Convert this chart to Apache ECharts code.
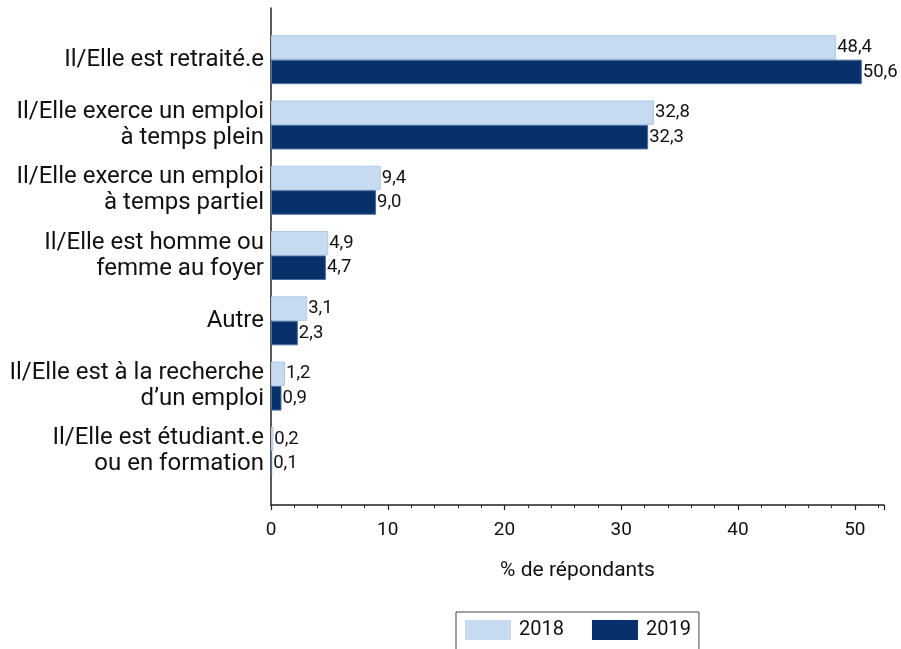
<!DOCTYPE html>
<html>
<head>
<meta charset="utf-8">
<script src="https://cdn.jsdelivr.net/npm/echarts@6/dist/echarts.min.js"></script>
<style>
  html, body { margin: 0; padding: 0; background: #fff; }
  #chart { width: 901px; height: 649px; }
</style>
</head>
<body>
<div id="chart"></div>
<script>
// categories, top to bottom
const categories = [
  'Il/Elle est retraité.e',
  'Il/Elle exerce un emploi\nà temps plein',
  'Il/Elle exerce un emploi\nà temps partiel',
  'Il/Elle est homme ou\nfemme au foyer',
  'Autre',
  'Il/Elle est à la recherche\nd\u2019un emploi',
  'Il/Elle est étudiant.e\nou en formation'
]
const values2018 = [48.4, 32.8, 9.4, 4.9, 3.1, 1.2, 0.2]
const values2019 = [50.6, 32.3, 9.0, 4.7, 2.3, 0.9, 0.1]
const seriesNames = ['2018', '2019']

const FONT = 'Roboto'
const TEXT = '#111'
const X_MAX = 52.5

const fmt = v => v.toFixed(1).replace('.', ',')

const chart = echarts.init(document.getElementById('chart'))

const option = {
  animation: false,
  textStyle: { fontFamily: FONT, color: TEXT },
  grid: [
    // frame grid: carries the visible axes
    { left: 271, right: 17, top: 8, bottom: 144 },
    // bar grid: categories sit inside the frame
    { left: 271, right: 17, top: 27, bottom: 165 }
  ],
  xAxis: [
    {
      gridIndex: 0,
      type: 'value',
      min: 0,
      max: X_MAX,
      interval: 10,
      name: '% de répondants',
      nameLocation: 'middle',
      nameGap: 55,
      nameTextStyle: { fontSize: 21, color: TEXT, fontFamily: FONT },
      axisLine: { show: true, lineStyle: { color: '#222', width: 1.5 } },
      axisTick: { show: true, length: 5, lineStyle: { color: '#222', width: 1.2 } },
      minorTick: { show: true, splitNumber: 5, length: 3, lineStyle: { color: '#222' } },
      axisLabel: {
        fontSize: 19, color: TEXT, margin: 16, fontFamily: FONT,
        formatter: v => (v % 10 === 0 ? String(v) : '')
      },
      splitLine: { show: false }
    },
    {
      gridIndex: 1,
      type: 'value',
      min: 0,
      max: X_MAX,
      show: false
    }
  ],
  yAxis: [
    {
      gridIndex: 0,
      type: 'value',
      axisLine: { show: true, lineStyle: { color: '#222', width: 1.5 } },
      axisTick: { show: false },
      axisLabel: { show: false },
      splitLine: { show: false }
    },
    {
      gridIndex: 1,
      type: 'category',
      inverse: true,
      data: categories,
      axisLine: { show: false },
      axisTick: { show: false },
      axisLabel: {
        fontSize: 24, lineHeight: 26, color: TEXT, margin: 7,
        align: 'right', fontFamily: FONT
      }
    }
  ],
  legend: {
    data: seriesNames,
    left: 456,
    top: 612,
    orient: 'horizontal',
    icon: 'rect',
    itemWidth: 46,
    itemHeight: 20,
    itemGap: 28,
    padding: [8, 8, 20, 9],
    borderColor: '#444',
    borderWidth: 1,
    textStyle: { fontSize: 20, color: TEXT, fontFamily: FONT, padding: [0, 0, 0, 3] },
    itemStyle: { borderWidth: 0 }
  },
  series: [
    {
      name: seriesNames[0],
      type: 'bar',
      xAxisIndex: 1,
      yAxisIndex: 1,
      data: values2018,
      barWidth: 24.5,
      barGap: '0%',
      itemStyle: { color: '#c6dbef', borderColor: '#b0cae6', borderWidth: 1 },
      label: {
        show: true, position: 'right', distance: 1,
        fontSize: 18.5, color: TEXT, fontFamily: FONT,
        formatter: p => fmt(p.value)
      }
    },
    {
      name: seriesNames[1],
      type: 'bar',
      xAxisIndex: 1,
      yAxisIndex: 1,
      data: values2019,
      barWidth: 24.5,
      barGap: '0%',
      itemStyle: { color: '#08306b', borderColor: '#4a6f9e', borderWidth: 1 },
      label: {
        show: true, position: 'right', distance: 1,
        fontSize: 18.5, color: TEXT, fontFamily: FONT,
        formatter: p => fmt(p.value)
      }
    }
  ]
}

chart.setOption(option)
</script>
</body>
</html>
